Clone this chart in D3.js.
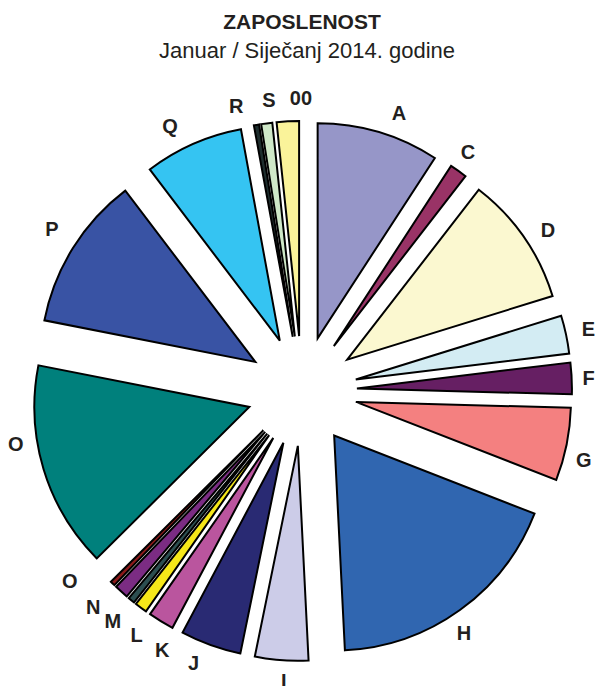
<!DOCTYPE html>
<html>
<head>
<meta charset="utf-8">
<script src="https://cdn.jsdelivr.net/npm/d3@7"></script>
<style>
  html, body { margin: 0; padding: 0; background: #ffffff; }
  svg { display: block; }
</style>
</head>
<body>
<div id="chart"></div>
<script>
// ---- data ----
const categories = ["A","C","D","E","F","G","H","I","J","K","L","M","N","O","O","P","Q","R","S","00"];
const values     = [9.17,1.31,9.72,2.86,2.36,5.47,18.28,4.00,4.56,1.94,0.92,0.50,1.06,0.36,15.53,11.56,7.44,0.39,0.83,1.67];
const colors     = ["#9696c8","#993366","#fbf8d0","#d3ecf3","#661f63","#f48080","#3066b0","#cccce8","#292a73","#ba559e",
                    "#f6e719","#2c4e50","#7b2c83","#8b1a1a","#00807c","#3953a4","#35c4f2","#1e2e2e","#cfe8c8","#faf39a"];
const titleText = "ZAPOSLENOST";
const subtitleText = "Januar / Siječanj 2014. godine";

// ---- layout (label placement, polar: degrees clockwise from 12 o'clock, radius px) ----
const labelAngle  = [19.2,34.8,56.8,77.8,87.4,103.7,146.2,183.6,201.7,208.4,214.1,219.4,224.1,230.7,259.5,302.9,333.5,347.0,353.5,359.8];
const labelRadius = [295,291,294,293,287,290,291,290,293,294,295,298,300,300,291,298,296,293,293,293];

const W = 598, H = 686;
const cx = 302, cy = 391;
const radius = 215, explode = 55;

const svg = d3.select("#chart").append("svg").attr("width", W).attr("height", H);

svg.append("text").attr("x", 302).attr("y", 29).attr("text-anchor", "middle")
  .attr("font-family", "Liberation Sans, Arial, sans-serif").attr("font-weight", "bold")
  .attr("font-size", 21).attr("fill", "#231f20").text(titleText);
svg.append("text").attr("x", 307).attr("y", 58).attr("text-anchor", "middle")
  .attr("font-family", "Liberation Sans, Arial, sans-serif")
  .attr("font-size", 22).attr("fill", "#231f20").text(subtitleText);

const data = categories.map((c, i) => ({ cat: c, value: values[i], color: colors[i] }));
const pie = d3.pie().sort(null).value(d => d.value).startAngle(0).endAngle(2 * Math.PI);
const arcs = pie(data);
const arc = d3.arc().innerRadius(0).outerRadius(radius);

const g = svg.append("g").attr("transform", `translate(${cx},${cy})`);

g.selectAll("path.slice").data(arcs).enter().append("path")
  .attr("class", "slice")
  .attr("d", arc)
  .attr("transform", d => {
    const m = (d.startAngle + d.endAngle) / 2;
    return `translate(${Math.sin(m) * explode},${-Math.cos(m) * explode})`;
  })
  .attr("fill", d => d.data.color)
  .attr("stroke", "#000")
  .attr("stroke-width", 2)
  .attr("stroke-linejoin", "miter");

const rad = Math.PI / 180;
g.selectAll("text.lbl").data(arcs).enter().append("text")
  .attr("class", "lbl")
  .attr("x", (d, i) => Math.sin(labelAngle[i] * rad) * labelRadius[i])
  .attr("y", (d, i) => -Math.cos(labelAngle[i] * rad) * labelRadius[i])
  .attr("dy", "0.36em")
  .attr("text-anchor", "middle")
  .attr("font-family", "Liberation Sans, Arial, sans-serif")
  .attr("font-weight", "bold")
  .attr("font-size", 20)
  .attr("fill", "#231f20")
  .text(d => d.data.cat);
</script>
</body>
</html>
